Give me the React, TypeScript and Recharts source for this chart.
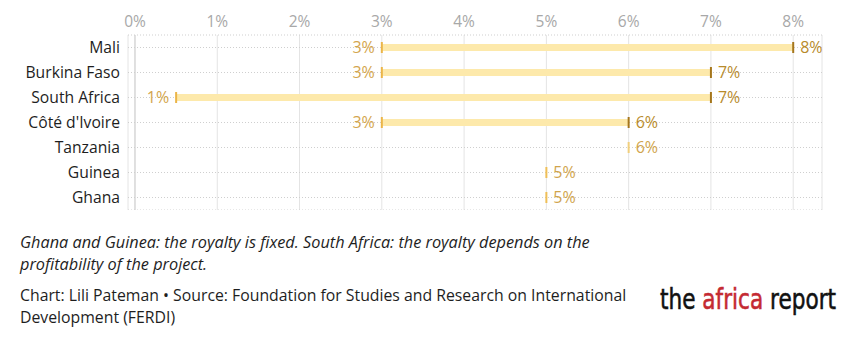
import React from "react";
import { ComposedChart, Bar, XAxis, YAxis, CartesianGrid, ReferenceLine } from "recharts";

const countries = ["Mali", "Burkina Faso", "South Africa", "Côté d'Ivoire", "Tanzania", "Guinea", "Ghana"];
const minRates: (number | null)[] = [3, 3, 0.5, 3, null, null, null];
const maxRates = [8, 7, 7, 6, 6, 5, 5];
const xTicks = [0, 1, 2, 3, 4, 5, 6, 7, 8];

const data = countries.map((name, i) => ({ name, lo: minRates[i], hi: maxRates[i] }));

const FONT = "'Open Sans', Roboto, sans-serif";

const RangeShape = (props: any) => {
  const { x, y, width, height, payload } = props;
  const hi = payload.hi as number;
  const lo = payload.lo as number | null;
  const ppu = width / hi;
  const cy = y + height / 2;
  const hiX = x + width;
  const single = lo === null || lo === undefined;
  const loX = single ? hiX : x + lo * ppu;
  const isTanzania = payload.name === "Tanzania";
  return (
    <g>
      {!single && (
        <rect x={loX} y={cy - 3.5} width={hiX - loX} height={7} fill="#fde9ab" />
      )}
      {!single && (
        <line x1={loX} x2={loX} y1={cy - 5.5} y2={cy + 5.5} stroke="#ebb548" strokeWidth={2} />
      )}
      {!single && (
        <text x={loX - 7} y={cy + 1.5} textAnchor="end" dominantBaseline="middle" fontFamily={FONT} fontSize={16} fill="#d3a54c">
          {Math.round(lo as number)}%
        </text>
      )}
      <line
        x1={hiX}
        x2={hiX}
        y1={cy - 5.5}
        y2={cy + 5.5}
        stroke={single ? (isTanzania ? "#f1cf7c" : "#efbf57") : "#a5761c"}
        strokeWidth={2}
      />
      <text x={hiX + 7} y={cy + 1.5} textAnchor="start" dominantBaseline="middle" fontFamily={FONT} fontSize={16} fill={single ? "#d0a44c" : "#b88b2c"}>
        {hi}%
      </text>
    </g>
  );
};

export default function App() {
  return (
    <div style={{ position: "absolute", left: 0, top: 0, width: 861, height: 353, background: "#fff", fontFamily: FONT }}>
      <ComposedChart
        width={861}
        height={210}
        data={data}
        layout="vertical"
        margin={{ top: 0, right: 39, bottom: 0, left: 0 }}
        barCategoryGap={0}
      >
        <CartesianGrid horizontal={false} stroke="#e4e4e4" />
        <CartesianGrid vertical={false} stroke="#cfcfcf" strokeDasharray="1 2" />
        <XAxis
          type="number"
          orientation="top"
          domain={[-0.085, 8.35]}
          ticks={xTicks}
          tickFormatter={(v: number) => `${v}%`}
          axisLine={false}
          tickLine={false}
          tickSize={0}
          tickMargin={8}
          height={35}
          tick={{ fill: "#a8a8a8", fontSize: 15.5, fontFamily: FONT }}
          interval={0}
        />
        <YAxis
          type="category"
          dataKey="name"
          width={128}
          axisLine={false}
          tickLine={false}
          tickSize={0}
          tickMargin={8}
          tick={{ fill: "#1e1e1e", fontSize: 15.7, fontFamily: FONT }}
          interval={0}
        />
        <ReferenceLine x={0} stroke="#cfcfcf" />
        <Bar dataKey={(d: any) => [0, d.hi]} barSize={7} shape={RangeShape} isAnimationActive={false} />
      </ComposedChart>
      <div style={{ position: "absolute", left: 20, top: 231, width: 680, fontSize: 16.3, lineHeight: "22px", color: "#1e1e1e", fontStyle: "italic", whiteSpace: "nowrap" }}>
        Ghana and Guinea: the royalty is fixed. South Africa: the royalty depends on the
        <br />
        profitability of the project.
      </div>
      <div style={{ position: "absolute", left: 20, top: 284, width: 680, fontSize: 15.8, lineHeight: "22px", color: "#1e1e1e", whiteSpace: "nowrap" }}>
        Chart: Lili Pateman • Source: Foundation for Studies and Research on International
        <br />
        Development (FERDI)
      </div>
      <svg style={{ position: "absolute", left: 650, top: 280 }} width={200} height={45}>
        <g transform="translate(0,29) scale(1,1.12)">
          <text
            x={10}
            y={0}
            fontFamily="'DejaVu Sans Condensed', 'Liberation Sans Narrow', sans-serif"
            fontSize={26}
            textLength={176}
            lengthAdjust="spacingAndGlyphs"
            fill="#111"
            stroke="#111"
            strokeWidth={0.5}
          >
            <tspan>the </tspan>
            <tspan fill="#c42a32" stroke="#c42a32">africa</tspan>
            <tspan> report</tspan>
          </text>
        </g>
      </svg>
    </div>
  );
}
